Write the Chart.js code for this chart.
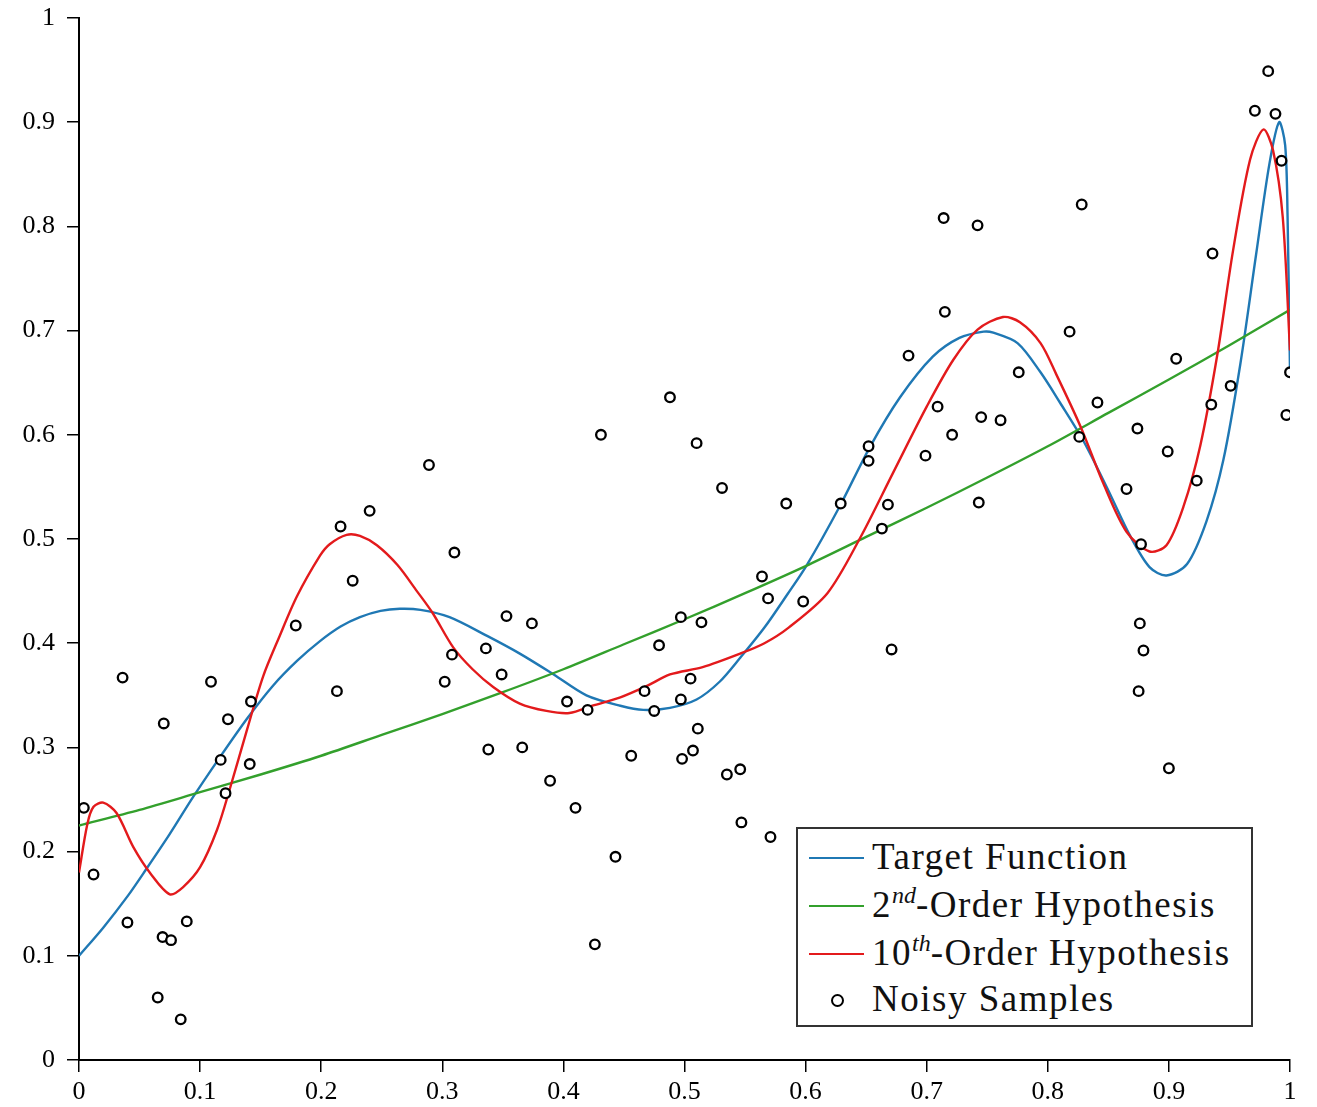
<!DOCTYPE html>
<html>
<head>
<meta charset="utf-8">
<script src="https://cdn.jsdelivr.net/npm/chart.js@4.4.1/dist/chart.umd.min.js"></script>
<style>
  body { margin: 0; background: #fff; }
  #wrap { position: relative; width: 1317px; height: 1107px; }
  #legend {
    position: absolute; left: 796px; top: 827px; width: 453px; height: 196px;
    border: 2px solid #333; background: #fff;
    font-family: "Liberation Serif", "DejaVu Serif", serif; font-size: 37px; color: #111;
    letter-spacing: 1.5px;
  }
  #legend .row { position: absolute; left: 0; height: 46px; width: 100%; }
  #legend .swatch { position: absolute; left: 11px; top: 22px; width: 55px; height: 2px; }
  #legend .dot { position: absolute; left: 33px; top: 17px; width: 9px; height: 9px; border: 2px solid #000; border-radius: 50%; }
  #legend .lbl { position: absolute; left: 74px; top: 0; line-height: 44px; white-space: nowrap; }
  #legend sup { font-size: 24px; font-style: italic; vertical-align: 14px; line-height: 0; letter-spacing: 0; }
</style>
</head>
<body>
<div id="wrap">
  <canvas id="fit_chart" width="1317" height="1107"></canvas>
  <div id="legend"></div>
</div>
<script>
// ---------------- data ----------------
var xTicks = [0, 0.1, 0.2, 0.3, 0.4, 0.5, 0.6, 0.7, 0.8, 0.9, 1];
var xTickLabels = ['0', '0.1', '0.2', '0.3', '0.4', '0.5', '0.6', '0.7', '0.8', '0.9', '1'];
var yTicks = [0, 0.1, 0.2, 0.3, 0.4, 0.5, 0.6, 0.7, 0.8, 0.9, 1];
var yTickLabels = ['0', '0.1', '0.2', '0.3', '0.4', '0.5', '0.6', '0.7', '0.8', '0.9', '1'];

var targetX = [0.000, 0.020, 0.040, 0.056, 0.075, 0.094, 0.116, 0.139, 0.160, 0.180, 0.199, 0.216, 0.232, 0.249, 0.265, 0.282,
  0.306, 0.337, 0.364, 0.392, 0.419, 0.447, 0.466, 0.488, 0.510, 0.529, 0.546, 0.566, 0.585, 0.601, 0.628, 0.653, 0.678,
  0.705, 0.727, 0.747, 0.755, 0.775, 0.794, 0.810, 0.829, 0.849, 0.868, 0.884, 0.898, 0.915, 0.931, 0.945, 0.959, 0.972,
  0.983, 0.991, 0.996, 0.998, 1.000];
var targetY = [0.100, 0.127, 0.157, 0.184, 0.217, 0.252, 0.290, 0.328, 0.359, 0.383, 0.402, 0.416, 0.425, 0.431, 0.433, 0.432,
  0.425, 0.407, 0.390, 0.370, 0.350, 0.340, 0.336, 0.338, 0.346, 0.363, 0.386, 0.415, 0.447, 0.475, 0.531, 0.588, 0.636,
  0.675, 0.693, 0.699, 0.698, 0.688, 0.660, 0.631, 0.595, 0.549, 0.503, 0.473, 0.465, 0.476, 0.517, 0.576, 0.668, 0.773,
  0.860, 0.900, 0.878, 0.809, 0.660];

var quadX = [0, 0.05, 0.1, 0.15, 0.2, 0.25, 0.3, 0.35, 0.4, 0.45, 0.5, 0.55, 0.6, 0.65, 0.7, 0.75, 0.8, 0.85, 0.9, 0.95, 1];
var quadY = [0.225, 0.240, 0.257, 0.274, 0.292, 0.312, 0.332, 0.353, 0.375, 0.399, 0.423, 0.448, 0.474, 0.502, 0.530,
  0.559, 0.589, 0.621, 0.653, 0.686, 0.720];

var tenthX = [0.000, 0.007, 0.012, 0.020, 0.031, 0.045, 0.059, 0.075, 0.086, 0.100, 0.114, 0.125, 0.139, 0.152, 0.165, 0.180,
  0.199, 0.207, 0.221, 0.232, 0.246, 0.263, 0.279, 0.292, 0.309, 0.325, 0.342, 0.364, 0.386, 0.405, 0.424, 0.447, 0.469,
  0.488, 0.515, 0.546, 0.566, 0.586, 0.618, 0.645, 0.672, 0.700, 0.722, 0.742, 0.763, 0.777, 0.794, 0.807, 0.827, 0.846,
  0.865, 0.884, 0.898, 0.912, 0.926, 0.940, 0.953, 0.967, 0.978, 0.986, 0.994, 1.000];
var tenthY = [0.180, 0.227, 0.243, 0.247, 0.237, 0.204, 0.179, 0.159, 0.166, 0.185, 0.221, 0.262, 0.318, 0.368, 0.405, 0.445,
  0.484, 0.495, 0.504, 0.503, 0.494, 0.475, 0.450, 0.429, 0.396, 0.375, 0.358, 0.342, 0.335, 0.333, 0.340, 0.348, 0.359,
  0.370, 0.377, 0.390, 0.400, 0.415, 0.448, 0.501, 0.563, 0.627, 0.672, 0.701, 0.713, 0.708, 0.688, 0.658, 0.608, 0.553,
  0.507, 0.488, 0.494, 0.531, 0.590, 0.677, 0.777, 0.864, 0.893, 0.873, 0.809, 0.681];

var sampleX = [0.004, 0.012, 0.036, 0.040, 0.065, 0.070, 0.069, 0.076, 0.084, 0.089, 0.109, 0.117, 0.121, 0.123, 0.141, 0.142,
  0.179, 0.213, 0.216, 0.226, 0.240, 0.289, 0.302, 0.308, 0.310, 0.336, 0.338, 0.349, 0.353, 0.366, 0.374, 0.389, 0.403,
  0.410, 0.420, 0.426, 0.431, 0.443, 0.456, 0.467, 0.475, 0.479, 0.488, 0.497, 0.497, 0.498, 0.505, 0.507, 0.510, 0.511,
  0.514, 0.531, 0.535, 0.546, 0.547, 0.564, 0.569, 0.571, 0.584, 0.598, 0.629, 0.652, 0.652, 0.663, 0.668, 0.671, 0.685,
  0.699, 0.709, 0.714, 0.715, 0.721, 0.742, 0.743, 0.745, 0.761, 0.776, 0.818, 0.826, 0.828, 0.841, 0.865, 0.874, 0.875,
  0.876, 0.877, 0.879, 0.899, 0.900, 0.906, 0.923, 0.935, 0.936, 0.951, 0.971, 0.982, 0.988, 0.993, 0.997, 1.000];
var sampleY = [0.242, 0.178, 0.367, 0.132, 0.060, 0.323, 0.118, 0.115, 0.039, 0.133, 0.363, 0.288, 0.256, 0.327, 0.284, 0.344,
  0.417, 0.354, 0.512, 0.460, 0.527, 0.571, 0.363, 0.389, 0.487, 0.395, 0.298, 0.370, 0.426, 0.300, 0.419, 0.268, 0.344,
  0.242, 0.336, 0.111, 0.600, 0.195, 0.292, 0.354, 0.335, 0.398, 0.636, 0.425, 0.346, 0.289, 0.366, 0.297, 0.592, 0.318,
  0.420, 0.549, 0.274, 0.279, 0.228, 0.464, 0.443, 0.214, 0.534, 0.440, 0.534, 0.589, 0.575, 0.510, 0.533, 0.394, 0.676,
  0.580, 0.627, 0.808, 0.718, 0.600, 0.801, 0.535, 0.617, 0.614, 0.660, 0.699, 0.598, 0.821, 0.631, 0.548, 0.606, 0.354,
  0.419, 0.495, 0.393, 0.584, 0.280, 0.673, 0.556, 0.629, 0.774, 0.647, 0.911, 0.949, 0.908, 0.863, 0.619, 0.660];

var seriesNames = ['Target Function', '2<sup>nd</sup>-Order Hypothesis', '10<sup>th</sup>-Order Hypothesis', 'Noisy Samples'];
var seriesColors = ['#1f78b4', '#33a02c', '#e31a1c', '#000000'];

// ---------------- chart ----------------
function pts(xs, ys) {
  return xs.map(function (x, i) { return { x: x, y: ys[i] }; });
}

var tickFont = { family: '"Liberation Serif", "DejaVu Serif", serif', size: 26 };

function lineSet(name, xs, ys, color, order) {
  return {
    type: 'line',
    label: name,
    data: pts(xs, ys),
    borderColor: color,
    backgroundColor: color,
    borderWidth: 2.4,
    pointRadius: 0,
    fill: false,
    tension: 0.3,
    order: order
  };
}

const CHART = document.getElementById('fit_chart');
let fitChart = new Chart(CHART, {
  type: 'scatter',
  data: {
    datasets: [
      {
        type: 'scatter',
        label: 'Noisy Samples',
        data: pts(sampleX, sampleY),
        pointRadius: 4.8,
        pointBorderWidth: 2.3,
        borderColor: '#000',
        backgroundColor: '#fff',
        order: 0
      },
      lineSet('Target Function', targetX, targetY, seriesColors[0], 3),
      lineSet('2nd-Order Hypothesis', quadX, quadY, seriesColors[1], 2),
      lineSet('10th-Order Hypothesis', tenthX, tenthY, seriesColors[2], 1)
    ]
  },
  options: {
    responsive: false,
    animation: false,
    layout: { padding: { top: 18, right: 27, left: 0, bottom: 0 } },
    plugins: { legend: { display: false }, tooltip: { enabled: false } },
    scales: {
      x: {
        type: 'linear', min: 0, max: 1,
        afterBuildTicks: function (s) { s.ticks = xTicks.map(function (v) { return { value: v }; }); },
        afterFit: function (s) { s.height = 47; s.paddingLeft = 0; s.paddingRight = 0; },
        ticks: {
          color: '#000', font: tickFont, padding: 5, maxRotation: 0, autoSkip: false,
          callback: function (v, i) { return xTickLabels[i]; }
        },
        grid: { drawOnChartArea: false, tickLength: 12, color: '#000', lineWidth: 1.5 },
        border: { color: '#000', width: 2 }
      },
      y: {
        type: 'linear', min: 0, max: 1,
        afterBuildTicks: function (s) { s.ticks = yTicks.map(function (v) { return { value: v }; }); },
        afterFit: function (s) { s.width = 79; s.paddingTop = 0; s.paddingBottom = 0; },
        ticks: {
          color: '#000', font: tickFont, padding: 12, autoSkip: false,
          callback: function (v, i) { return yTickLabels[i]; }
        },
        grid: { drawOnChartArea: false, tickLength: 12, color: '#000', lineWidth: 1.5 },
        border: { color: '#000', width: 2 }
      }
    }
  }
});

// ---------------- legend box ----------------
var rowTops = [6, 54, 102, 148];
var legendHtml = '';
for (var i = 0; i < seriesNames.length; i++) {
  var mark = i < 3
    ? '<div class="swatch" style="background:' + seriesColors[i] + '"></div>'
    : '<div class="dot"></div>';
  legendHtml += '<div class="row" style="top:' + rowTops[i] + 'px">' + mark + '<span class="lbl">' + seriesNames[i] + '</span></div>';
}
document.getElementById('legend').innerHTML = legendHtml;
</script>
</body>
</html>
